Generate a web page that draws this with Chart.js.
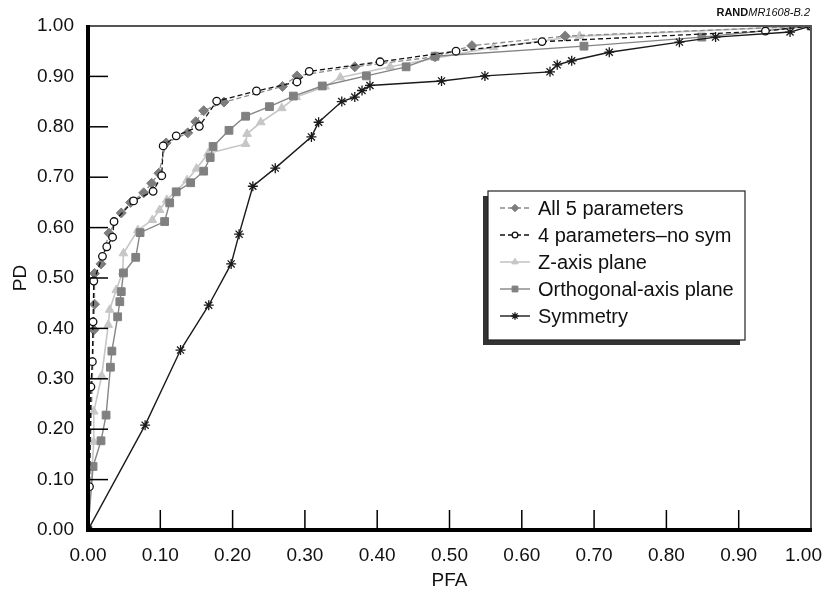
<!DOCTYPE html>
<html lang="en">
<head>
<meta charset="UTF-8">
<title>PD vs PFA</title>
<style>
  html, body { margin: 0; padding: 0; background: #fff; }
  canvas { display: block; }
</style>
</head>
<body>
<canvas id="rocChart" width="827" height="592"></canvas>
<script src="https://cdn.jsdelivr.net/npm/chart.js"></script>
<script>
// values
const tickValues = [0, 0.1, 0.2, 0.3, 0.4, 0.5, 0.6, 0.7, 0.8, 0.9, 1.0];
const seriesNames = ['All 5 parameters', '4 parameters\u2013no sym', 'Z-axis plane', 'Orthogonal-axis plane', 'Symmetry'];

const all5X = [0, 0.008, 0.009, 0.009, 0.018, 0.029, 0.046, 0.059, 0.077, 0.088, 0.098, 0.108, 0.138, 0.149, 0.160, 0.188, 0.269, 0.289, 0.369, 0.480, 0.531, 0.660, 1.0];
const all5Y = [0, 0.397, 0.448, 0.509, 0.528, 0.589, 0.629, 0.650, 0.669, 0.688, 0.708, 0.768, 0.788, 0.810, 0.832, 0.849, 0.880, 0.901, 0.919, 0.939, 0.961, 0.980, 1.0];

const fourX = [0, 0.002, 0.004, 0.006, 0.007, 0.008, 0.020, 0.026, 0.034, 0.036, 0.063, 0.090, 0.102, 0.104, 0.122, 0.154, 0.178, 0.233, 0.289, 0.306, 0.404, 0.509, 0.628, 0.937, 1.0];
const fourY = [0, 0.086, 0.284, 0.334, 0.413, 0.494, 0.543, 0.562, 0.581, 0.612, 0.653, 0.672, 0.703, 0.762, 0.782, 0.801, 0.851, 0.871, 0.889, 0.910, 0.929, 0.950, 0.969, 0.990, 1.0];

const zAxisX = [0, 0.008, 0.008, 0.019, 0.028, 0.030, 0.039, 0.048, 0.049, 0.069, 0.089, 0.099, 0.109, 0.137, 0.150, 0.166, 0.218, 0.220, 0.239, 0.268, 0.288, 0.328, 0.349, 0.418, 0.561, 0.680, 1.0];
const zAxisY = [0, 0.175, 0.235, 0.306, 0.407, 0.437, 0.476, 0.512, 0.549, 0.595, 0.615, 0.635, 0.655, 0.694, 0.717, 0.747, 0.766, 0.786, 0.809, 0.837, 0.859, 0.880, 0.898, 0.919, 0.958, 0.980, 1.0];

const orthoX = [0, 0.007, 0.018, 0.025, 0.031, 0.033, 0.041, 0.044, 0.046, 0.049, 0.066, 0.072, 0.106, 0.113, 0.122, 0.142, 0.160, 0.169, 0.173, 0.195, 0.218, 0.251, 0.284, 0.324, 0.385, 0.440, 0.480, 0.686, 0.849, 1.0];
const orthoY = [0, 0.126, 0.177, 0.228, 0.323, 0.355, 0.423, 0.453, 0.473, 0.510, 0.541, 0.590, 0.612, 0.649, 0.671, 0.689, 0.712, 0.739, 0.761, 0.793, 0.821, 0.840, 0.861, 0.881, 0.901, 0.919, 0.940, 0.960, 0.978, 1.0];

const symX = [0, 0.079, 0.128, 0.167, 0.198, 0.209, 0.228, 0.259, 0.309, 0.319, 0.351, 0.369, 0.379, 0.390, 0.489, 0.549, 0.639, 0.649, 0.669, 0.721, 0.818, 0.868, 0.971, 1.0];
const symY = [0, 0.208, 0.357, 0.446, 0.528, 0.587, 0.682, 0.718, 0.780, 0.809, 0.850, 0.859, 0.872, 0.882, 0.891, 0.901, 0.909, 0.923, 0.931, 0.948, 0.968, 0.978, 0.988, 1.0];

const FONT = "'Liberation Sans', Arial, Helvetica, sans-serif";

function pts(xs, ys) {
    return xs.map((x, i) => ({ x: x, y: ys[i] }));
}

// frame, inward tick marks, x labels, boxed legend and the small caption
const decorPlugin = {
    id: 'decor',
    afterDatasetsDraw(chart) {
        const ctx = chart.ctx;
        const a = chart.chartArea;
        const xs = chart.scales.x, ys = chart.scales.y;
        ctx.save();

        // thin grey top/right border
        ctx.strokeStyle = '#555';
        ctx.lineWidth = 2;
        ctx.beginPath();
        ctx.moveTo(a.left, a.top);
        ctx.lineTo(a.right, a.top);
        ctx.lineTo(a.right, a.bottom);
        ctx.stroke();

        // inward ticks
        ctx.strokeStyle = '#000';
        ctx.lineWidth = 1.5;
        tickValues.forEach(v => {
            if (v <= 0 || v >= 1) return;
            const py = ys.getPixelForValue(v);
            ctx.beginPath();
            ctx.moveTo(a.left, py);
            ctx.lineTo(a.left + 20, py);
            ctx.stroke();
            const px = xs.getPixelForValue(v);
            ctx.beginPath();
            ctx.moveTo(px, a.bottom);
            ctx.lineTo(px, a.bottom - 20);
            ctx.stroke();
        });

        // heavy left and bottom axes
        ctx.lineWidth = 4;
        ctx.beginPath();
        ctx.moveTo(a.left, a.top - 1);
        ctx.lineTo(a.left, a.bottom);
        ctx.lineTo(a.right + 1, a.bottom);
        ctx.stroke();

        // x tick labels, kept inside the canvas at the right end
        ctx.font = '19px ' + FONT;
        ctx.fillStyle = '#111';
        ctx.textAlign = 'center';
        ctx.textBaseline = 'middle';
        tickValues.forEach(v => {
            const txt = v.toFixed(2);
            const half = ctx.measureText(txt).width / 2;
            const px = Math.min(xs.getPixelForValue(v), chart.width - 5 - half);
            ctx.fillText(txt, px, a.bottom + 26);
        });

        // legend box with shadow
        const bx = 488, by = 191, bw = 257, bh = 149;
        ctx.fillStyle = '#333';
        ctx.fillRect(bx - 5, by + 5, bw, bh);
        ctx.fillStyle = '#fff';
        ctx.fillRect(bx, by, bw, bh);
        ctx.strokeStyle = '#222';
        ctx.lineWidth = 1.2;
        ctx.strokeRect(bx, by, bw, bh);

        const rowY = [208, 235, 262, 289, 316];
        ctx.font = '20px ' + FONT;
        ctx.textBaseline = 'middle';
        ctx.textAlign = 'left';
        [0, 1, 2, 3, 4].forEach((di, i) => {
            const ds = chart.data.datasets[di];
            const y = rowY[i];
            ctx.strokeStyle = ds.borderColor;
            ctx.lineWidth = ds.borderWidth;
            ctx.setLineDash(ds.borderDash || []);
            ctx.beginPath();
            ctx.moveTo(500, y);
            ctx.lineTo(530, y);
            ctx.stroke();
            ctx.setLineDash([]);
            ctx.fillStyle = ds.pointBackgroundColor;
            ctx.strokeStyle = ds.pointBorderColor;
            ctx.lineWidth = ds.pointBorderWidth;
            Chart.helpers.drawPoint(ctx, {
                pointStyle: ds.pointStyle,
                radius: ds.pointRadius * 0.75,
                borderWidth: ds.pointBorderWidth,
                rotation: 0
            }, 515, y);
            ctx.fillStyle = '#111';
            ctx.fillText(ds.label, 538, y + 1);
        });

        // caption
        ctx.textBaseline = 'alphabetic';
        ctx.textAlign = 'right';
        ctx.fillStyle = '#111';
        ctx.font = 'italic 11px ' + FONT;
        const tail = 'MR1608-B.2';
        ctx.fillText(tail, 810, 16);
        const w = ctx.measureText(tail).width;
        ctx.font = 'bold 11px ' + FONT;
        ctx.fillText('RAND', 810 - w, 16);

        ctx.restore();
    }
};

const ctx = document.getElementById('rocChart').getContext('2d');
const rocChart = new Chart(ctx, {
    type: 'scatter',
    data: {
        datasets: [{
            label: seriesNames[0],
            data: pts(all5X, all5Y),
            showLine: true,
            order: 2,
            borderColor: '#8a8a8a',
            borderWidth: 1.3,
            borderDash: [5, 3],
            pointStyle: 'rectRot',
            pointRadius: 5,
            pointBackgroundColor: '#7d7d7d',
            pointBorderColor: '#7d7d7d',
            pointBorderWidth: 1
        }, {
            label: seriesNames[1],
            data: pts(fourX, fourY),
            showLine: true,
            order: 1,
            borderColor: '#111',
            borderWidth: 1.3,
            borderDash: [5, 3],
            pointStyle: 'circle',
            pointRadius: 3.8,
            pointBackgroundColor: '#fff',
            pointBorderColor: '#111',
            pointBorderWidth: 1.3
        }, {
            label: seriesNames[2],
            data: pts(zAxisX, zAxisY),
            showLine: true,
            order: 4,
            borderColor: '#c6c6c6',
            borderWidth: 1.6,
            pointStyle: 'triangle',
            pointRadius: 5,
            pointBackgroundColor: '#c6c6c6',
            pointBorderColor: '#c6c6c6',
            pointBorderWidth: 1
        }, {
            label: seriesNames[3],
            data: pts(orthoX, orthoY),
            showLine: true,
            order: 3,
            borderColor: '#858585',
            borderWidth: 1.4,
            pointStyle: 'rect',
            pointRadius: 5.5,
            pointBackgroundColor: '#808080',
            pointBorderColor: '#808080',
            pointBorderWidth: 1
        }, {
            label: seriesNames[4],
            data: pts(symX, symY),
            showLine: true,
            order: 0,
            borderColor: '#1a1a1a',
            borderWidth: 1.4,
            pointStyle: 'star',
            pointRadius: 5,
            pointBackgroundColor: '#1a1a1a',
            pointBorderColor: '#1a1a1a',
            pointBorderWidth: 1.3
        }]
    },
    options: {
        responsive: false,
        animation: false,
        devicePixelRatio: 1,
        layout: { padding: { top: 26, right: 16, left: 0, bottom: 0 } },
        plugins: {
            legend: { display: false },
            tooltip: { enabled: false }
        },
        scales: {
            x: {
                type: 'linear',
                min: 0,
                max: 1,
                afterBuildTicks: s => { s.ticks = tickValues.map(v => ({ value: v })); },
                afterFit: s => { s.height = 62; s.paddingLeft = 0; s.paddingRight = 0; },
                grid: { display: false },
                border: { display: false },
                ticks: { display: false },
                title: {
                    display: true,
                    text: 'PFA',
                    color: '#111',
                    font: { size: 19, family: FONT },
                    padding: { top: 0, bottom: 0 }
                }
            },
            y: {
                type: 'linear',
                min: 0,
                max: 1,
                afterBuildTicks: s => { s.ticks = tickValues.map(v => ({ value: v })); },
                afterFit: s => { s.width = 88; },
                grid: { display: false },
                border: { display: false },
                ticks: {
                    autoSkip: false,
                    padding: 6,
                    color: '#111',
                    font: { size: 19, family: FONT },
                    callback: v => v.toFixed(2)
                },
                title: {
                    display: true,
                    text: 'PD',
                    color: '#111',
                    font: { size: 19, family: FONT },
                    padding: { top: 9, bottom: 0 }
                }
            }
        }
    },
    plugins: [decorPlugin]
});
</script>
</body>
</html>
